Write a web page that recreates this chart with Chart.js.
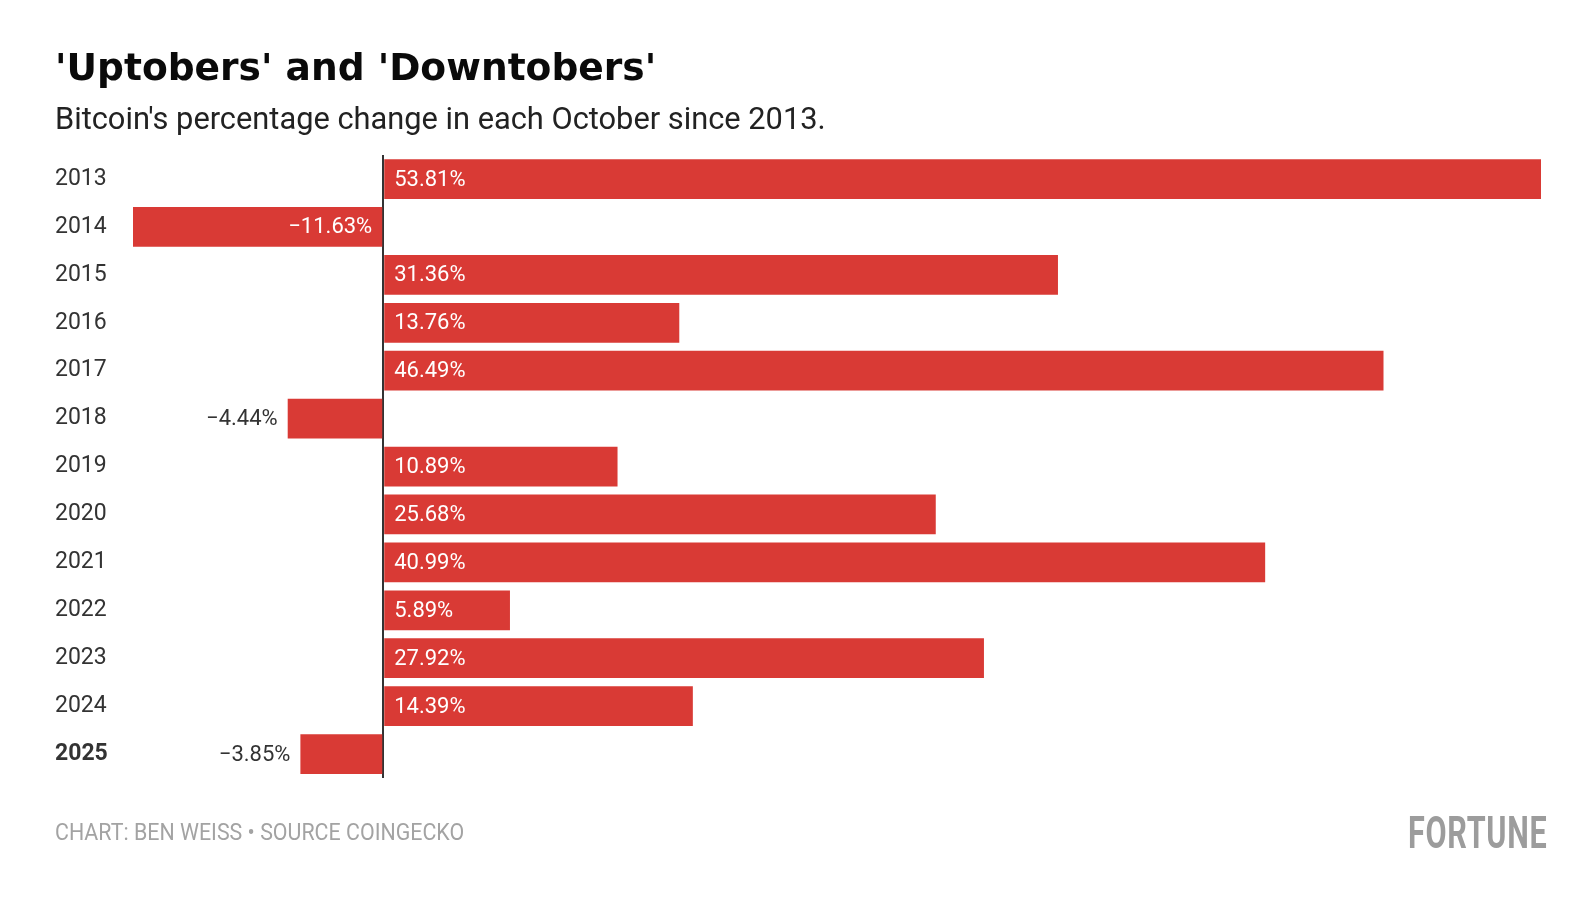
<!DOCTYPE html>
<html>
<head>
<meta charset="utf-8">
<script src="https://cdn.jsdelivr.net/npm/chart.js@4"></script>
<style>
  html,body{margin:0;padding:0;background:#fff;}
  #wrap{position:relative;width:1570px;height:900px;}
  canvas{display:block;}
  #source{position:absolute;left:55px;top:819px;font-family:Roboto,sans-serif;font-size:23px;color:#a3a3a3;white-space:nowrap;transform-origin:0 50%;transform:scaleX(0.93);}
  #logo{position:absolute;left:1408px;top:806px;font-family:Roboto,sans-serif;font-weight:700;font-size:45px;color:#9c9c9c;white-space:nowrap;transform-origin:0 0;transform:scaleX(0.68);letter-spacing:1px;}
</style>
</head>
<body>
<div id="wrap">
<canvas id="c" width="1570" height="900"></canvas>
<div id="source">CHART: BEN WEISS • SOURCE COINGECKO</div>
<div id="logo">FORTUNE</div>
</div>
<script>
const years = ['2013','2014','2015','2016','2017','2018','2019','2020','2021','2022','2023','2024','2025'];
const changes = [53.81, -11.63, 31.36, 13.76, 46.49, -4.44, 10.89, 25.68, 40.99, 5.89, 27.92, 14.39, -3.85];
const titleText = "'Uptobers' and 'Downtobers'";
const subtitleText = "Bitcoin's percentage change in each October since 2013.";

const BAR = '#d93a35';
const fmt = v => (v < 0 ? '\u2212' : '') + Math.abs(v).toFixed(2) + '%';

const labelPlugin = {
  id: 'valueLabels',
  afterDatasetsDraw(chart) {
    const ctx = chart.ctx;
    const meta = chart.getDatasetMeta(0);
    ctx.save();
    ctx.font = '400 22px Roboto, sans-serif';
    ctx.textBaseline = 'middle';
    meta.data.forEach((bar, i) => {
      const v = changes[i];
      const txt = fmt(v);
      const tw = ctx.measureText(txt).width;
      const w = Math.abs(bar.x - bar.base);
      const inside = w >= tw + 30;
      if (v >= 0) {
        ctx.textAlign = 'left';
        ctx.fillStyle = '#fff';
        ctx.fillText(txt, bar.base + 10, bar.y + 1);
      } else {
        ctx.textAlign = 'right';
        if (inside) {
          ctx.fillStyle = '#fff';
          ctx.fillText(txt, bar.base - 10, bar.y + 1);
        } else {
          ctx.fillStyle = '#333';
          ctx.fillText(txt, bar.x - 10, bar.y + 1);
        }
      }
    });
    ctx.restore();
  }
};

new Chart(document.getElementById('c'), {
  type: 'bar',
  data: {
    labels: years,
    datasets: [{
      data: changes,
      backgroundColor: BAR,
      borderWidth: 0,
      barPercentage: 0.83,
      categoryPercentage: 1.0
    }]
  },
  options: {
    indexAxis: 'y',
    responsive: false,
    animation: false,
    devicePixelRatio: 1,
    layout: { padding: { left: 55, right: 29, top: 0, bottom: 122 } },
    plugins: {
      legend: { display: false },
      tooltip: { enabled: false },
      title: {
        display: true,
        text: titleText,
        align: 'start',
        color: '#0a0a0a',
        font: { family: '"DejaVu Sans", sans-serif', size: 37.6, weight: 'bold', lineHeight: 1.2 },
        padding: { top: 48, bottom: 0 }
      },
      subtitle: {
        display: true,
        text: subtitleText,
        align: 'start',
        color: '#222',
        font: { family: 'Roboto, sans-serif', size: 30.8, weight: '400', lineHeight: 1.2 },
        padding: { top: 10, bottom: 15 }
      }
    },
    scales: {
      x: {
        min: -11.63,
        max: 53.81,
        z: 1,
        border: { display: false },
        grid: {
          drawTicks: false,
          lineWidth: 2,
          color: c => (c.tick && c.tick.value === 0) ? '#333' : 'rgba(0,0,0,0)'
        },
        ticks: { display: false, stepSize: 1 }
      },
      y: {
        border: { display: false },
        grid: { display: false, drawTicks: false },
        afterFit: s => { s.width = 78; },
        ticks: {
          crossAlign: 'far',
          color: '#333',
          padding: 0,
          font: c => ({ family: 'Roboto, sans-serif', size: 23, weight: c.index === 12 ? '700' : '400' })
        }
      }
    }
  },
  plugins: [labelPlugin]
});
</script>
</body>
</html>
